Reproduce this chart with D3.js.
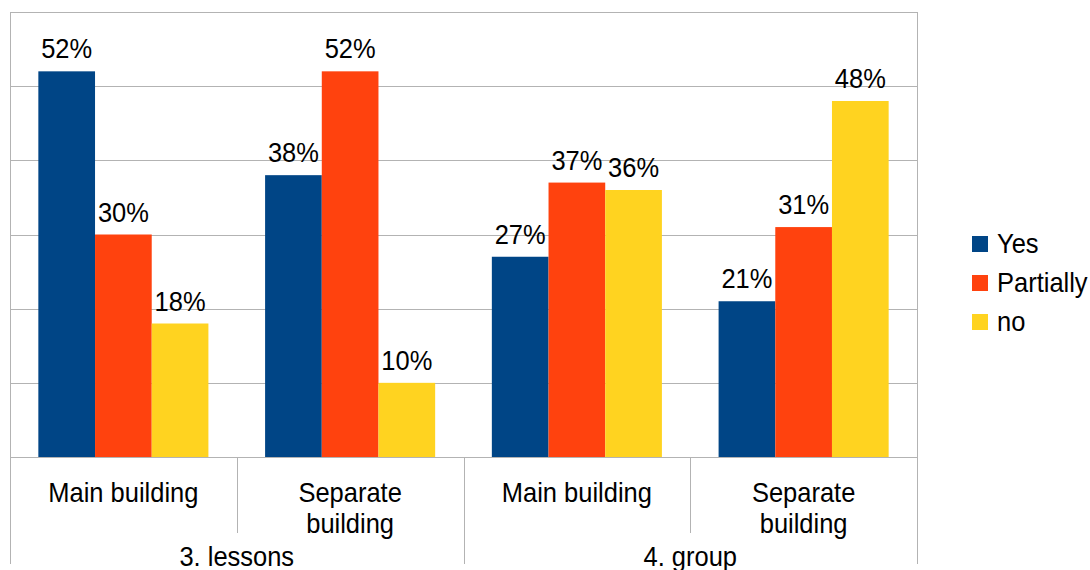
<!DOCTYPE html>
<html>
<head>
<meta charset="utf-8">
<script src="https://cdn.jsdelivr.net/npm/d3@7"></script>
<style>
  html, body { margin: 0; padding: 0; background: #fff; }
  svg { display: block; font-family: "Liberation Sans", Arial, sans-serif; }
</style>
</head>
<body>
<svg id="chart" width="1090" height="570"></svg>
<script>
// Survey answers per building type, grouped by question
const groups = ["3. lessons", "4. group"];
const buildings = ["Main building", "Separate building"];
const seriesNames = ["Yes", "Partially", "no"];
const yesValues = [52, 38, 27, 21];
const partiallyValues = [30, 52, 37, 31];
const noValues = [18, 10, 36, 48];
const yTicks = [0, 10, 20, 30, 40, 50, 60];
const colors = ["#004586", "#ff420e", "#ffd320"];

const series = [yesValues, partiallyValues, noValues];
// one row per (group, building) category
const categories = [];
groups.forEach((g, gi) => buildings.forEach((b, bi) => {
  categories.push({ id: gi + "-" + bi, group: g, building: b, idx: categories.length });
}));

const svg = d3.select("#chart");
const plotLeft = 10, plotRight = 917, plotTop = 12, plotBottom = 457;
const textScaleY = 1.08;
const fontSize = 25.5;

const x0 = d3.scaleBand()
  .domain(categories.map(d => d.id))
  .range([plotLeft, plotRight])
  .paddingInner(0.25)
  .paddingOuter(0.125);
const x1 = d3.scaleBand()
  .domain(seriesNames)
  .range([0, x0.bandwidth()]);
const y = d3.scaleLinear().domain([0, 60]).range([plotBottom, plotTop]);

const gridColor = "#b3b3b3";

// horizontal gridlines
svg.append("g").selectAll("line")
  .data(yTicks)
  .join("line")
  .attr("x1", plotLeft).attr("x2", plotRight)
  .attr("y1", d => Math.round(y(d)) + 0.5).attr("y2", d => Math.round(y(d)) + 0.5)
  .attr("stroke", gridColor).attr("stroke-width", 1);

// plot-area right border
svg.append("line")
  .attr("x1", plotRight + 0.5).attr("x2", plotRight + 0.5)
  .attr("y1", plotTop).attr("y2", plotBottom)
  .attr("stroke", gridColor);

// bars
const barG = svg.append("g");
series.forEach((vals, si) => {
  barG.append("g").selectAll("rect")
    .data(categories)
    .join("rect")
    .attr("x", d => x0(d.id) + x1(seriesNames[si]))
    .attr("width", x1.bandwidth())
    .attr("y", d => y(vals[d.idx]))
    .attr("height", d => y(0) - y(vals[d.idx]))
    .attr("fill", colors[si]);
});

// baseline drawn over bars
svg.append("line")
  .attr("x1", plotLeft).attr("x2", plotRight)
  .attr("y1", Math.round(y(0)) + 0.5).attr("y2", Math.round(y(0)) + 0.5)
  .attr("stroke", gridColor);

function label(sel, x, yPos, txt, anchor) {
  sel.append("text")
    .attr("transform", `translate(${x},${yPos}) scale(1,${textScaleY})`)
    .attr("text-anchor", anchor || "middle")
    .attr("font-size", fontSize)
    .attr("fill", "#000")
    .text(txt);
}

// value labels
const valG = svg.append("g");
series.forEach((vals, si) => {
  categories.forEach(d => {
    const cx = x0(d.id) + x1(seriesNames[si]) + x1.bandwidth() / 2;
    label(valG, cx, y(vals[d.idx]) - 13, vals[d.idx] + "%");
  });
});

// category axis: building labels, separators, group labels
const axG = svg.append("g");
const step = x0.step();
categories.forEach(d => {
  const cx = x0(d.id) + x0.bandwidth() / 2;
  const words = d.building.split(" ");
  if (d.building === "Main building") {
    label(axG, cx, 502, d.building);
  } else {
    label(axG, cx, 502, words[0]);
    label(axG, cx, 533, words[1]);
  }
});
// separators between buildings inside a group
groups.forEach((g, gi) => {
  const xm = plotLeft + step * (gi * 2 + 1);
  axG.append("line")
    .attr("x1", Math.round(xm) + 0.5).attr("x2", Math.round(xm) + 0.5)
    .attr("y1", plotBottom).attr("y2", 533)
    .attr("stroke", gridColor);
});
// group boundaries
[0, 1, 2].forEach(k => {
  const xg = plotLeft + step * 2 * k;
  axG.append("line")
    .attr("x1", Math.round(xg) + 0.5).attr("x2", Math.round(xg) + 0.5)
    .attr("y1", k === 0 ? plotTop : plotBottom).attr("y2", 564)
    .attr("stroke", gridColor);
});
groups.forEach((g, gi) => {
  const cx = plotLeft + step * (gi * 2 + 1);
  label(axG, cx, 566, g);
});

// legend
const lg = svg.append("g");
seriesNames.forEach((name, i) => {
  const yy = 236 + i * 39;
  lg.append("rect")
    .attr("x", 972).attr("y", yy)
    .attr("width", 16).attr("height", 16)
    .attr("fill", colors[i]);
  label(lg, 997, yy + 17, name, "start");
});
</script>
</body>
</html>
